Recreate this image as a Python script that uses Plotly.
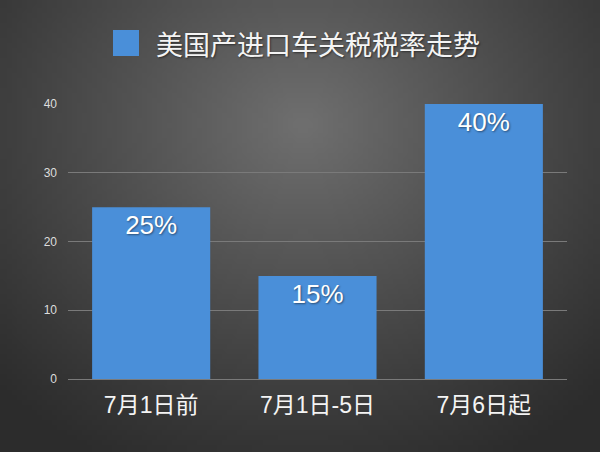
import base64
import struct
import zlib

import plotly.graph_objects as go

# chart data
categories = ["7月1日前", "7月1日-5日", "7月6日起"]
rates = [25, 15, 40]
labels = [f"{v}%" for v in rates]
y_ticks = [0, 10, 20, 30, 40]
title_text = "美国产进口车关税税率走势"

W, H = 600, 452
L, R, T, B = 68, 33, 104, 73
BLUE = "#4a8fd9"
FONT = "Liberation Sans, Noto Sans CJK SC, sans-serif"


def px_x(px):
    return (px - L) / (W - L - R)


def px_y(py):
    return (H - B - py) / (H - T - B)


def vignette_png(w=120, h=90):
    # dark radial gradient, lighter near the top centre
    rows = b""
    for j in range(h):
        row = b"\x00"
        for i in range(w):
            dx = (i / w - 0.5) * 1.0
            dy = (j / h - 0.27) * 0.85
            d = (dx * dx + dy * dy) ** 0.5 / 0.72
            f = max(0.0, 1 - d) ** 1.1
            v = int(0x2c + (0x70 - 0x2c) * f)
            row += bytes([v, v, v])
        rows += row

    def chunk(tag, data):
        c = struct.pack(">I", len(data)) + tag + data
        return c + struct.pack(">I", zlib.crc32(tag + data) & 0xffffffff)

    png = b"\x89PNG\r\n\x1a\n"
    png += chunk(b"IHDR", struct.pack(">IIBBBBB", w, h, 8, 2, 0, 0, 0))
    png += chunk(b"IDAT", zlib.compress(rows, 9))
    png += chunk(b"IEND", b"")
    return "data:image/png;base64," + base64.b64encode(png).decode()


fig = go.Figure(
    go.Bar(
        x=categories,
        y=rates,
        text=labels,
        textposition="inside",
        insidetextanchor="end",
        textfont=dict(family="Liberation Sans, sans-serif", size=26,
                      color="white", shadow="1px 1px 2px rgba(0,0,0,0.45)"),
        marker=dict(color=BLUE, line=dict(width=0)),
        hoverinfo="skip",
    )
)

fig.update_layout(
    width=W,
    height=H,
    margin=dict(l=L, r=R, t=T, b=B),
    paper_bgcolor="#333333",
    plot_bgcolor="rgba(0,0,0,0)",
    font=dict(family=FONT, color="#f2f2f2"),
    showlegend=False,
    bargap=0.29,
    images=[dict(
        source=vignette_png(),
        xref="paper", yref="paper",
        x=px_x(0), y=px_y(0),
        sizex=px_x(W) - px_x(0), sizey=px_y(0) - px_y(H),
        xanchor="left", yanchor="top",
        sizing="stretch", layer="below",
    )],
    shapes=[dict(
        type="rect", xref="paper", yref="paper",
        x0=px_x(113), x1=px_x(139), y0=px_y(56), y1=px_y(30),
        fillcolor=BLUE, line=dict(width=0),
    )],
    annotations=[dict(
        text=title_text,
        xref="paper", yref="paper",
        x=px_x(154), y=px_y(44),
        xanchor="left", yanchor="middle",
        showarrow=False,
        font=dict(family="Noto Sans CJK SC, sans-serif", size=27,
                  color="#f4f4f4", shadow="1px 1px 2px rgba(0,0,0,0.5)"),
    )],
)

fig.update_xaxes(
    showgrid=False,
    showline=False,
    ticks="",
    tickfont=dict(size=23, color="#f4f4f4"),
    ticklabelstandoff=10,
)
fig.update_yaxes(
    range=[0, 40],
    tickvals=y_ticks,
    showgrid=True,
    gridcolor="#7a7a7a",
    gridwidth=1,
    zeroline=True,
    zerolinecolor="#7a7a7a",
    zerolinewidth=1,
    tickfont=dict(size=12, color="#dddddd"),
    ticklabelstandoff=10,
)

fig.write_html("out.html", config={"displayModeBar": False},
               post_script="document.body.style.margin='0';")
